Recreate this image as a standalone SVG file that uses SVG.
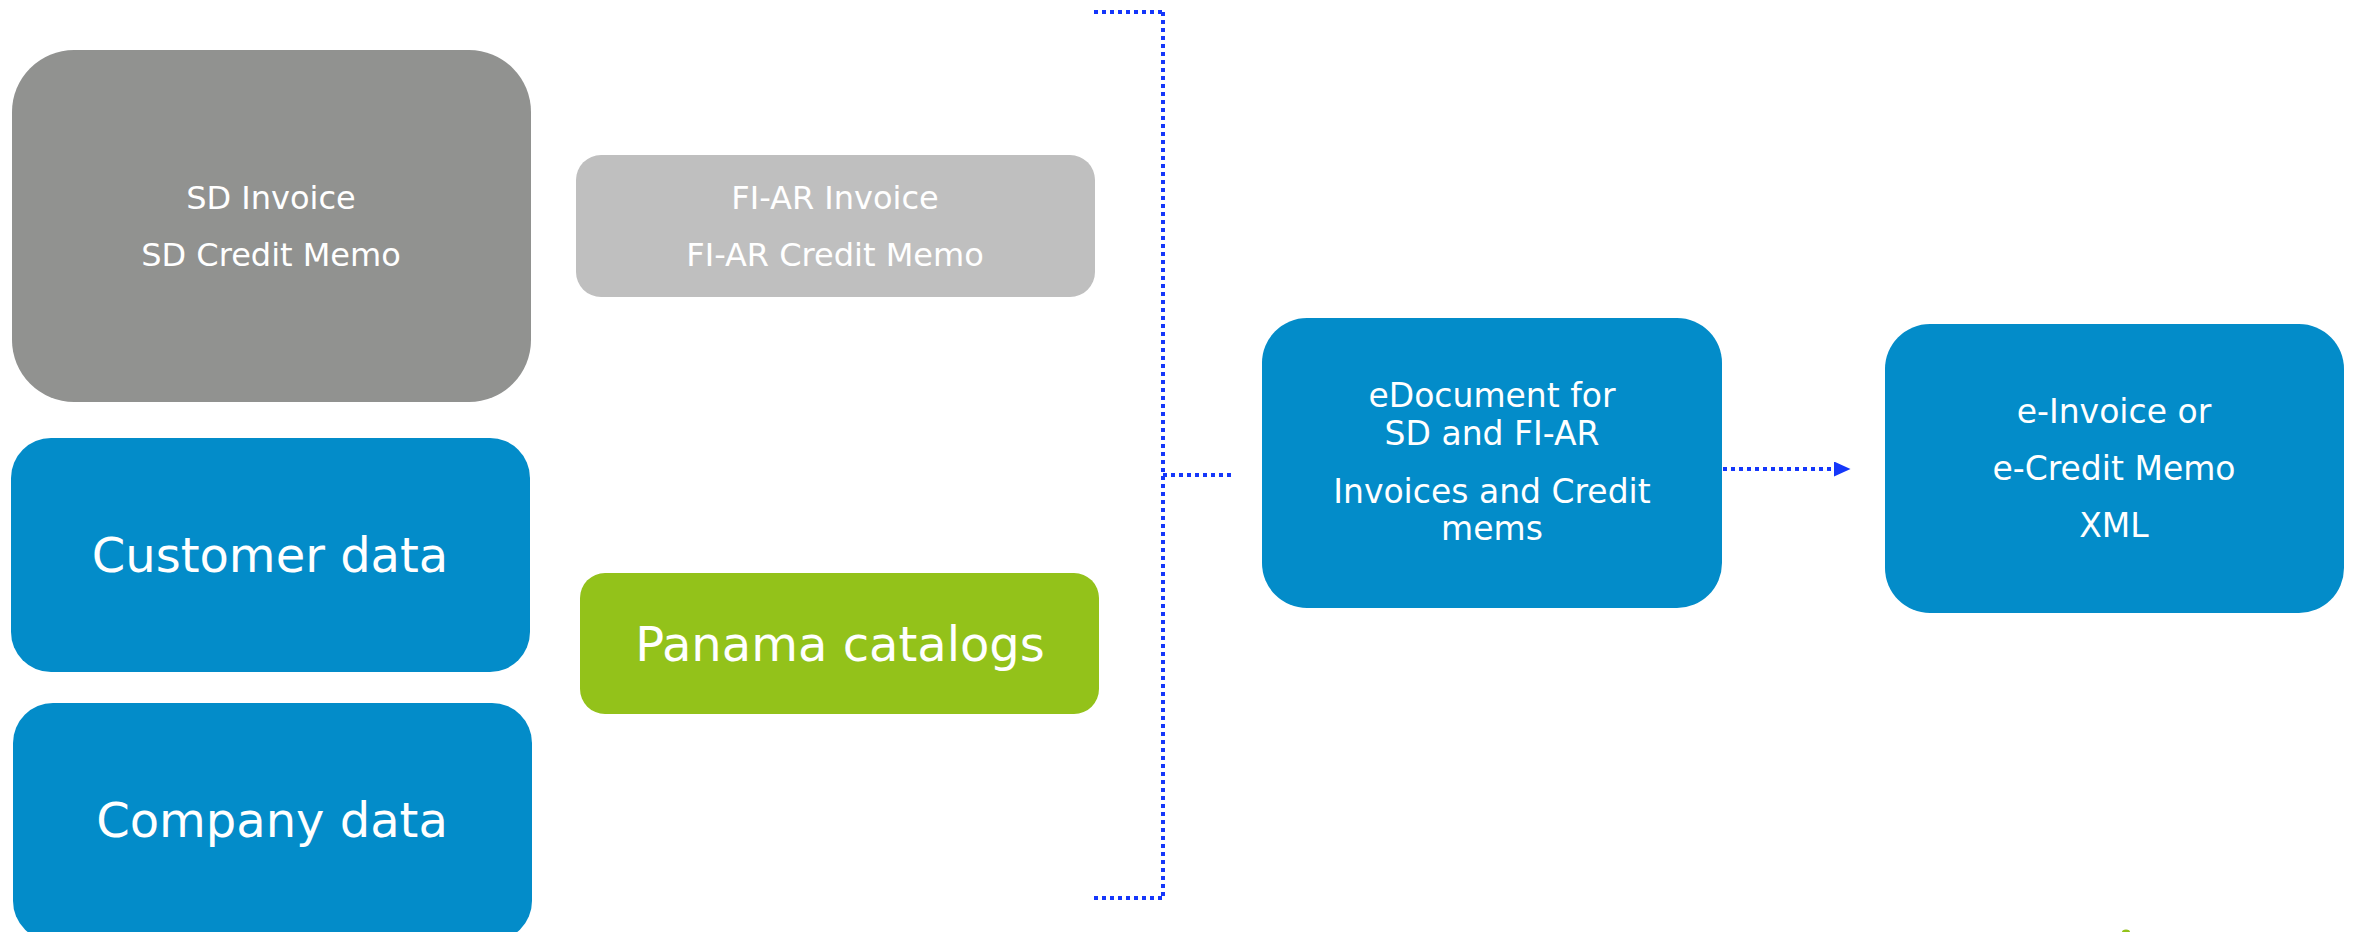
<svg xmlns="http://www.w3.org/2000/svg" width="2356" height="932" viewBox="0 0 2356 932">
<style>
  .lbl { font-family: "DejaVu Sans", "Liberation Sans", sans-serif; fill: #ffffff; text-anchor: middle; }
  .s32 { font-size: 32px; }
  .s33 { font-size: 33px; }
  .s48 { font-size: 48px; }
  .blue { fill: #038cc9; }
  .conn { fill: none; stroke: #1537fa; stroke-width: 4; stroke-dasharray: 4 4; }
</style>
<defs>
  <marker id="arrow" markerUnits="userSpaceOnUse" markerWidth="17" markerHeight="16" refX="0" refY="7.5" orient="auto">
    <path d="M0,0 L16.5,7.5 L0,15 Z" fill="#1537fa"/>
  </marker>
</defs>
<rect width="2356" height="932" fill="#ffffff"/>

<g id="sd-docs">
  <rect x="12" y="50" width="519" height="352" rx="62" fill="#919290"/>
  <text class="lbl s32" x="271" y="209">SD Invoice</text>
  <text class="lbl s32" x="271" y="266">SD Credit Memo</text>
</g>

<g id="fiar-docs">
  <rect x="576" y="155" width="519" height="142" rx="25" fill="#bfbfbf"/>
  <text class="lbl s32" x="835" y="209">FI-AR Invoice</text>
  <text class="lbl s32" x="835" y="266">FI-AR Credit Memo</text>
</g>

<g id="customer-data">
  <rect class="blue" x="11" y="438" width="519" height="234" rx="40"/>
  <text class="lbl s48" x="270" y="572">Customer data</text>
</g>

<g id="company-data">
  <rect class="blue" x="13" y="703" width="519" height="238" rx="40"/>
  <text class="lbl s48" x="272" y="837">Company data</text>
</g>

<g id="panama-catalogs">
  <rect x="580" y="573" width="519" height="141" rx="25" fill="#93c21a"/>
  <text class="lbl s48" x="840" y="661">Panama catalogs</text>
</g>

<g id="edocument">
  <rect class="blue" x="1262" y="318" width="460" height="290" rx="45"/>
  <text class="lbl s33" x="1492" y="407">eDocument for</text>
  <text class="lbl s33" x="1492" y="445">SD and FI-AR</text>
  <text class="lbl s33" x="1492" y="503">Invoices and Credit</text>
  <text class="lbl s33" x="1492" y="540">mems</text>
</g>

<g id="einvoice">
  <rect class="blue" x="1885" y="324" width="459" height="289" rx="45"/>
  <text class="lbl s33" x="2114" y="423">e-Invoice or</text>
  <text class="lbl s33" x="2114" y="480">e-Credit Memo</text>
  <text class="lbl s33" x="2114" y="537">XML</text>
</g>

<g id="connectors">
  <path class="conn" d="M1094,12 H1163"/>
  <path class="conn" d="M1163,12 V898"/>
  <path class="conn" d="M1094,898 H1163"/>
  <path class="conn" d="M1163,475 H1234"/>
  <path class="conn" d="M1723,469 H1834" marker-end="url(#arrow)"/>
</g>

<ellipse cx="2126" cy="932" rx="4" ry="2.5" fill="#93c21a"/>
</svg>
